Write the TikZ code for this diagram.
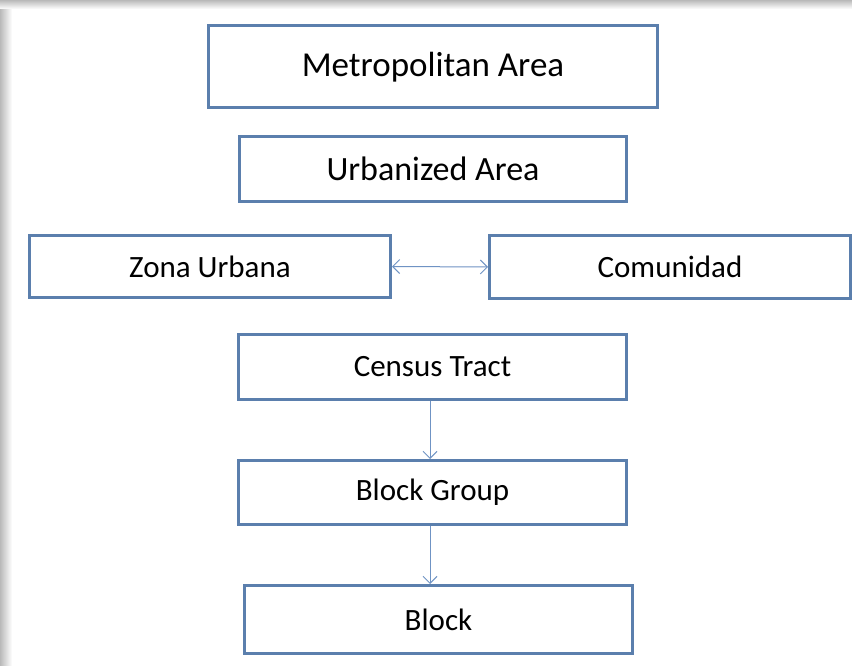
\documentclass[tikz,border=0pt]{standalone}
\usepackage{fontspec}
\setmainfont{Carlito}
\usetikzlibrary{arrows.meta}
\definecolor{boxblue}{HTML}{5B7FAD}
\definecolor{arrblue}{HTML}{6F93C4}
\definecolor{shade}{HTML}{A8A8A8}
\tikzset{
  box/.style={draw=boxblue, line width=3pt, fill=white, inner sep=0pt, anchor=north west},
  conn/.style={draw=arrblue, line width=1pt, -{Straight Barb[length=7pt,width=14pt]}},
  biconn/.style={draw=arrblue, line width=1pt, {Straight Barb[length=7pt,width=14pt]}-{Straight Barb[length=7pt,width=14pt]}}
}
\begin{document}
\begin{tikzpicture}[x=1pt,y=-1pt]
\useasboundingbox (0,0) rectangle (852,666);
\fill[white] (0,0) rectangle (852,666);
% shadow frame
\shade[left color=shade!80, right color=white] (0,0) rectangle (12,666);
\shade[top color=shade!80, bottom color=white] (0,0) rectangle (852,9);
\fill[white] (12,9) rectangle (852,666);
% boxes
\node[box, minimum width=449pt, minimum height=82pt, text depth=4pt, font=\fontsize{35}{40}\selectfont] (metro) at (207,24) {Metropolitan Area};
\node[box, minimum width=387pt, minimum height=65pt, font=\fontsize{34}{40}\selectfont] (urban) at (238,135) {Urbanized Area};
\node[box, minimum width=361pt, minimum height=62pt, font=\fontsize{31}{36}\selectfont] (zona) at (28,234) {Zona Urbana};
\node[box, minimum width=361pt, minimum height=63pt, font=\fontsize{31}{36}\selectfont] (comu) at (488,234) {Comunidad};
\node[box, minimum width=388pt, minimum height=65pt, font=\fontsize{31}{36}\selectfont] (tract) at (237,333) {Census Tract};
\node[box, minimum width=388pt, minimum height=64pt, font=\fontsize{31}{36}\selectfont] (bgroup) at (237,459) {Block Group};
\node[box, minimum width=388pt, minimum height=68pt, font=\fontsize{31}{36}\selectfont] (block) at (243,584) {Block};
% connectors
\draw[biconn] (zona.east) -- (comu.west);
\draw[conn] (tract.south -| 430,0) -- (bgroup.north -| 430,0);
\draw[conn] (bgroup.south -| 430,0) -- (block.north -| 430,0);
\end{tikzpicture}
\end{document}
